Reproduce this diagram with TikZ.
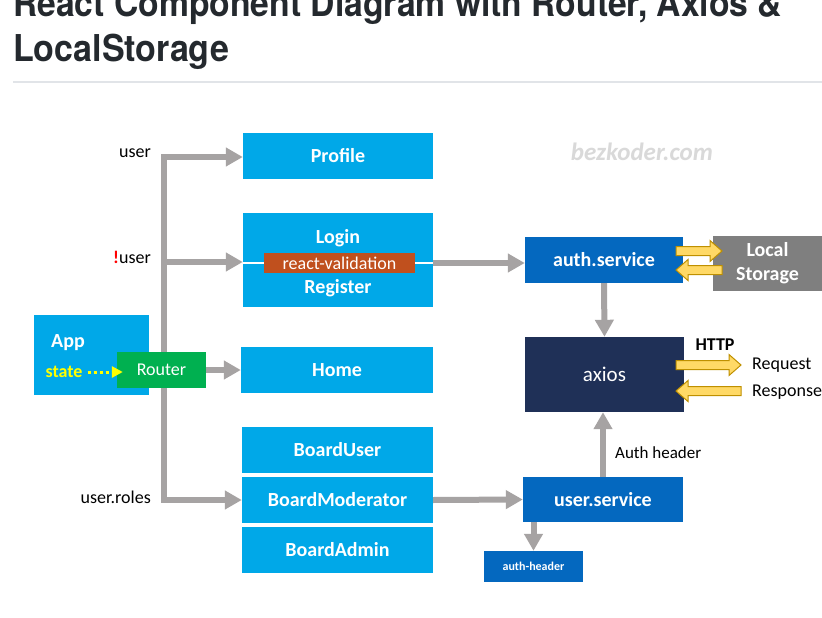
\documentclass[tikz,border=0pt]{standalone}
\usepackage{fontspec}
\setmainfont{Carlito}
\newfontfamily\titlefont{TeX Gyre Heros}
\usetikzlibrary{arrows.meta}
\definecolor{lb}{HTML}{00A8E8}
\definecolor{db}{HTML}{0468BF}
\definecolor{navy}{HTML}{1F3057}
\definecolor{rgreen}{HTML}{00B050}
\definecolor{rvorange}{HTML}{C0501E}
\definecolor{lsgray}{HTML}{7F7F7F}
\definecolor{arrgray}{HTML}{A6A3A3}
\definecolor{yfill}{HTML}{FFD966}
\definecolor{ydraw}{HTML}{BF9000}
\definecolor{titlec}{HTML}{24292E}
\definecolor{rulec}{HTML}{E1E4E8}
\definecolor{stateyellow}{HTML}{FFFF00}
\newcommand\yarr[3]{%
  \pgfmathsetmacro\hd{(#2>#1) ? -12 : 12}%
  \draw[yarrowstyle] (#1,#3+4.5) -- (#2+\hd,#3+4.5) -- (#2+\hd,#3+10.5) -- (#2,#3)
     -- (#2+\hd,#3-10.5) -- (#2+\hd,#3-4.5) -- (#1,#3-4.5) -- cycle;}
\begin{document}
\begin{tikzpicture}[x=1pt,y=1pt,
  boxbase/.style={draw=none, inner sep=0pt, text=white},
  lbox/.style={boxbase, fill=lb, font=\fontsize{20}{24}\selectfont\bfseries},
  dbox/.style={boxbase, fill=db, font=\fontsize{20}{24}\selectfont\bfseries},
  wtext/.style={inner sep=0pt, text=white, font=\fontsize{20}{24}\selectfont\bfseries},
  lbl/.style={inner sep=0pt, text=black, font=\fontsize{18}{22}\selectfont},
  gline/.style={draw=arrgray, line width=6pt},
  garrow/.style={draw=arrgray, line width=6pt, -{Triangle[length=17pt,width=18pt]}},
  yarrowstyle/.style={fill=yfill, draw=ydraw, line width=1pt, line join=miter}]
\path[use as bounding box] (0,0) rectangle (822,-618);
\clip (0,0) rectangle (822,-618);
\fill[white] (0,0) rectangle (822,-618);

% title
\node[anchor=base west, inner sep=0pt, text=titlec,
  font=\titlefont\bfseries\fontsize{37}{45}\selectfont] (t1) at (13,-17)
  {\scalebox{0.91}[1]{React Component Diagram with Router, Axios \&}};
\node[anchor=base west, inner sep=0pt, text=titlec,
  font=\titlefont\bfseries\fontsize{37}{45}\selectfont] (t2) at (13,-62)
  {\scalebox{0.92}[1]{LocalStorage}};
\draw[rulec, line width=1.5pt] (13,-82) -- (822,-82);

% watermark
\node[inner sep=0pt, text=black!15, font=\fontsize{25}{30}\selectfont\bfseries\itshape] (wm) at (642,-152) {bezkoder.com};

% left column boxes
\node[lbox, minimum width=190pt, minimum height=46pt] (profile) at (338,-156) {Profile};
\node[lbox, minimum width=190pt, minimum height=94pt] (login) at (338,-260) {};
\node[fill=rvorange, inner sep=0pt, minimum width=151pt, minimum height=20pt, text=white,
  font=\fontsize{18}{20}\selectfont] (rv) at (339.5,-263) {react-validation};
\draw[white, line width=2pt] (login.west |- rv) -- (rv.west);
\draw[white, line width=2pt] (rv.east) -- (login.east |- rv);
\node[wtext] (logint) at (338,-238) {Login};
\node[wtext] (regt) at (338,-288) {Register};
\node[lbox, minimum width=192pt, minimum height=46pt] (home) at (337,-370) {Home};
\node[lbox, minimum width=191pt, minimum height=46pt] (buser) at (337.5,-450) {BoardUser};
\node[lbox, minimum width=191pt, minimum height=46pt] (bmod) at (337.5,-500) {BoardModerator};
\node[lbox, minimum width=191pt, minimum height=46pt] (badmin) at (337.5,-550) {BoardAdmin};

% bus
\coordinate (bt) at (164,-157);
\coordinate (b2) at (164,-262);
\coordinate (bb) at (164,-500);
\draw[gline, line cap=rect] (bt) -- (bb);
\draw[garrow] (bt) -- (profile.west |- bt);
\draw[garrow] (b2) -- (login.west |- b2);
\draw[garrow] (bb) -- (bmod.west |- bb);

% labels
\node[lbl, anchor=base east] (luser) at (151,-157) {user};
\node[lbl, anchor=base east] (lnuser) at (151,-263) {\textcolor{red}{\textbf{!}}user};
\node[lbl, anchor=base east] (lroles) at (151,-503) {user.roles};

% App and Router
\node[boxbase, fill=lb, minimum width=115pt, minimum height=80pt] (app) at (91.5,-355) {};
\node[wtext] (appt) at (68,-343) {App};
\node[inner sep=0pt, text=stateyellow, font=\fontsize{18}{22}\selectfont\bfseries] (st) at (64,-372) {state};
\node[boxbase, fill=rgreen, minimum width=89pt, minimum height=36pt, font=\fontsize{18}{22}\selectfont] (router) at (161.5,-370) {Router};
\draw[stateyellow, line width=3pt, dash pattern=on 3pt off 3pt, -{Triangle[length=11pt,width=11pt]}]
  ([xshift=5pt]st.east) -- ([xshift=6pt]router.west |- st);
\draw[garrow] (router.east) -- (home.west);

% right side
\node[dbox, minimum width=158pt, minimum height=46pt] (auth) at (604,-260) {auth.service};
\node[boxbase, fill=lsgray, minimum width=109pt, minimum height=55pt, align=center,
  font=\fontsize{20}{24}\selectfont\bfseries] (ls) at (767.5,-263.5) {Local\\Storage};
\node[boxbase, fill=navy, minimum width=159pt, minimum height=75pt, font=\fontsize{21}{24}\selectfont] (axios) at (604.5,-374.5) {axios};
\node[dbox, minimum width=160pt, minimum height=45pt] (userv) at (603,-499.5) {user.service};
\node[boxbase, fill=db, minimum width=99pt, minimum height=31pt, font=\fontsize{12}{14}\selectfont\bfseries] (ah) at (533.5,-566.5) {auth-header};

\draw[garrow] (login.east |- rv) -- (auth.west |- rv);
\draw[garrow] (auth.south) -- (axios.north);
\draw[garrow] (bmod.east) -- (userv.west);
\draw[garrow] (userv.north) -- (userv.north |- axios.south);
\draw[garrow] (ah.north |- userv.south) -- (ah.north);

\node[lbl, anchor=west, font=\fontsize{17}{20}\selectfont] (authh) at (615,-453) {Auth header};
\node[lbl, font=\fontsize{18}{22}\selectfont\bfseries] (http) at (715,-345) {HTTP};
\node[lbl, anchor=west] (req) at (752,-365) {Request};
\node[lbl, anchor=west] (resp) at (752,-392) {Response};

\yarr{676}{722}{-251}
\yarr{722}{676}{-270}
\yarr{676}{741}{-365}
\yarr{741}{676}{-391}
\end{tikzpicture}
\end{document}
